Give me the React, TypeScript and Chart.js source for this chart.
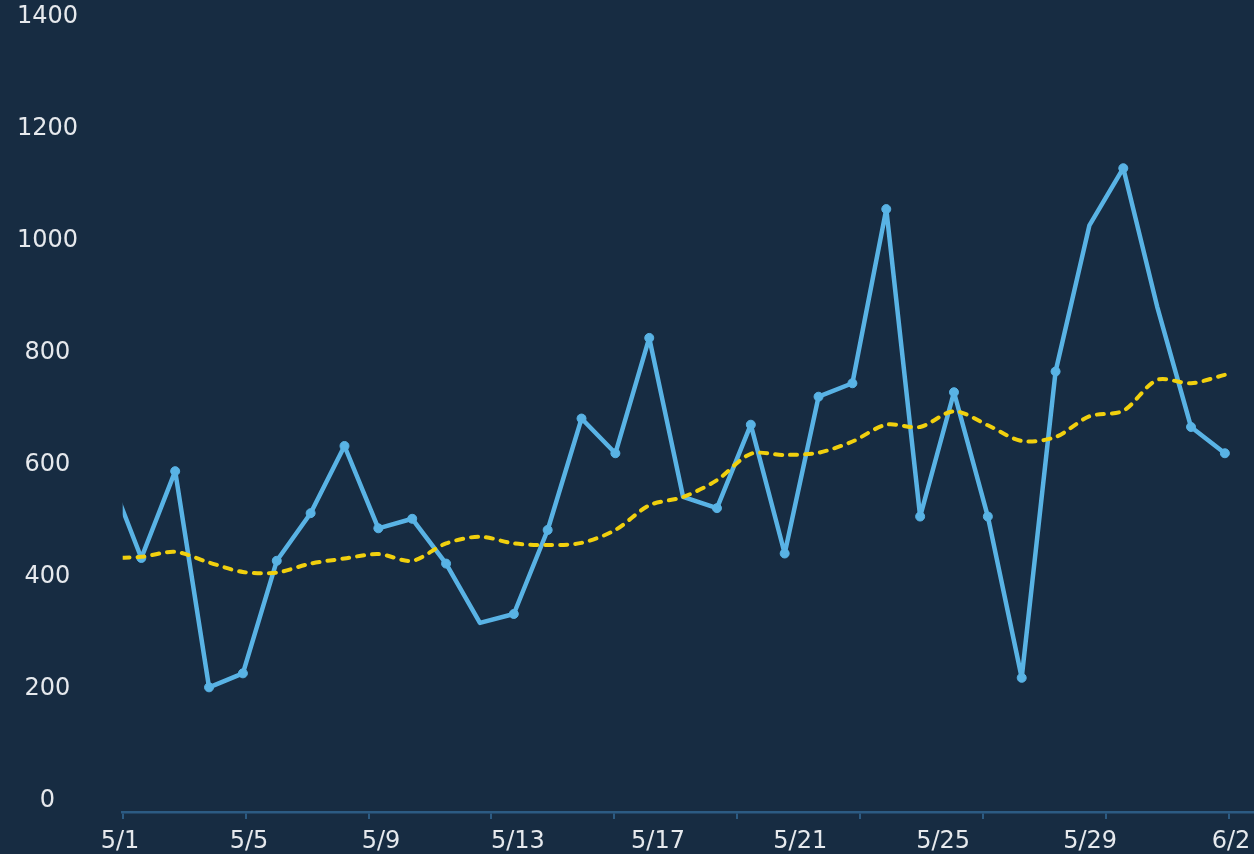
import React, { useEffect, useRef } from 'react';
import { Chart, registerables } from 'chart.js';

Chart.register(...registerables);

// ---- data (one entry per day, 4/30 .. 6/2) ----
const dayLabels = [
  '4/30', '5/1', '5/2', '5/3', '5/4', '5/5', '5/6', '5/7', '5/8', '5/9', '5/10',
  '5/11', '5/12', '5/13', '5/14', '5/15', '5/16', '5/17', '5/18', '5/19', '5/20',
  '5/21', '5/22', '5/23', '5/24', '5/25', '5/26', '5/27', '5/28', '5/29', '5/30',
  '5/31', '6/1', '6/2',
];
const dailyValues = [
  590, 434, 589, 203, 228, 429, 514, 634, 487, 504, 424,
  318, 334, 484, 683, 621, 827, 543, 523, 672, 442,
  722, 746, 1057, 508, 730, 508, 220, 767, 1028, 1130,
  883, 668, 621,
];
const movingAverage = [
  434, 436, 445, 426, 409, 408, 424, 433, 441, 429, 460,
  472, 460, 457, 461, 484, 528, 543, 573, 620, 618,
  622, 642, 672, 668, 696, 671, 643, 650, 687, 697,
  752, 746, 761,
];
const markerlessDays = ['5/11', '5/17', '5/29', '5/31'];

// ---- axis labels ----
const xTickLabels = ['5/1', '5/5', '5/9', '5/13', '5/17', '5/21', '5/25', '5/29', '6/2'];
const xTickLabelDays = [-0.63, 3.18, 7.08, 11.12, 15.26, 19.46, 23.68, 28.02, 32.18];
const yTickValues = [0, 200, 400, 600, 800, 1000, 1200, 1400];

// ---- axis geometry (in data units: days after 5/1, values) ----
const X_MIN = -0.55;
const X_MAX = 32.86;
const TICK_MARK_STEP = 3.63;
const TICK_MARK_COUNT = 10;
const Y_MIN = -19.6;
const Y_MAX = 1430.4;

// ---- styles ----
const BG = '#172c42';
const BLUE = '#59b3e5';
const YELLOW = '#f1d00e';
const AXIS = '#2c5b83';
const TEXT = '#e6e9ed';
const FONT = { family: '"DejaVu Sans", sans-serif', size: 24 };

export default function App() {
  const canvasRef = useRef<HTMLCanvasElement | null>(null);

  useEffect(() => {
    document.body.style.margin = '0';
    document.body.style.background = BG;
    const canvas = canvasRef.current;
    if (!canvas) return;

    const chart = new Chart(canvas, {
      type: 'line',
      data: {
        datasets: [
          {
            label: 'Moving average',
            data: movingAverage.map((v, i) => ({ x: i - 1, y: v })),
            borderColor: YELLOW,
            backgroundColor: YELLOW,
            borderWidth: 4,
            borderDash: [7, 8],
            borderCapStyle: 'round',
            borderJoinStyle: 'round',
            pointRadius: 0,
            tension: 0.3,
            fill: false,
            order: 0,
          },
          {
            label: 'Daily',
            data: dailyValues.map((v, i) => ({ x: i - 1, y: v })),
            borderColor: BLUE,
            backgroundColor: BLUE,
            borderWidth: 4.5,
            borderJoinStyle: 'round',
            borderCapStyle: 'round',
            pointRadius: (c: any) => (markerlessDays.includes(dayLabels[c.dataIndex]) ? 0 : 4.5),
            pointBorderWidth: 1,
            pointBackgroundColor: BLUE,
            pointBorderColor: BLUE,
            tension: 0,
            fill: false,
            order: 1,
          },
        ],
      },
      options: {
        animation: false,
        responsive: true,
        maintainAspectRatio: false,
        events: [],
        layout: { padding: 0, autoPadding: false },
        plugins: {
          legend: { display: false },
          tooltip: { enabled: false },
        },
        scales: {
          x: {
            type: 'linear',
            position: 'bottom',
            weight: 0,
            min: X_MIN,
            max: X_MAX,
            grid: {
              display: true,
              drawOnChartArea: false,
              drawTicks: true,
              tickLength: 7,
              color: AXIS,
              lineWidth: 2,
            },
            border: { display: true, color: AXIS, width: 2.5 },
            ticks: { display: false },
            afterBuildTicks: (s: any) => {
              s.ticks = Array.from({ length: TICK_MARK_COUNT }, (_, k) => ({ value: X_MIN + k * TICK_MARK_STEP }));
            },
            afterFit: (s: any) => {
              s.height = 15;
              s.paddingLeft = 0;
              s.paddingRight = 0;
            },
          },
          xl: {
            type: 'linear',
            position: 'bottom',
            weight: 1,
            min: X_MIN,
            max: X_MAX,
            grid: { display: false, drawTicks: false },
            border: { display: false },
            ticks: {
              color: TEXT,
              font: FONT,
              padding: 0,
              autoSkip: false,
              maxRotation: 0,
              minRotation: 0,
              callback: (_v: any, i: number) => xTickLabels[i],
            },
            afterBuildTicks: (s: any) => {
              s.ticks = xTickLabelDays.map((d) => ({ value: d }));
            },
            afterFit: (s: any) => {
              s.height = 27;
              s.paddingLeft = 0;
              s.paddingRight = 0;
            },
          },
          y: {
            type: 'linear',
            position: 'left',
            min: Y_MIN,
            max: Y_MAX,
            grid: { display: false, drawTicks: false },
            border: { display: false },
            ticks: {
              color: TEXT,
              font: FONT,
              crossAlign: 'center',
              padding: 44.7,
              autoSkip: false,
              callback: (v: any) => String(v),
            },
            afterBuildTicks: (s: any) => {
              s.ticks = yTickValues.map((v) => ({ value: v }));
            },
            afterFit: (s: any) => {
              s.width = 122.7;
              s.paddingTop = 0;
              s.paddingBottom = 0;
            },
          },
        },
      } as any,
    });

    return () => chart.destroy();
  }, []);

  return (
    <div style={{ width: 1254, height: 854, background: BG, position: 'relative' }}>
      <canvas ref={canvasRef} />
    </div>
  );
}
